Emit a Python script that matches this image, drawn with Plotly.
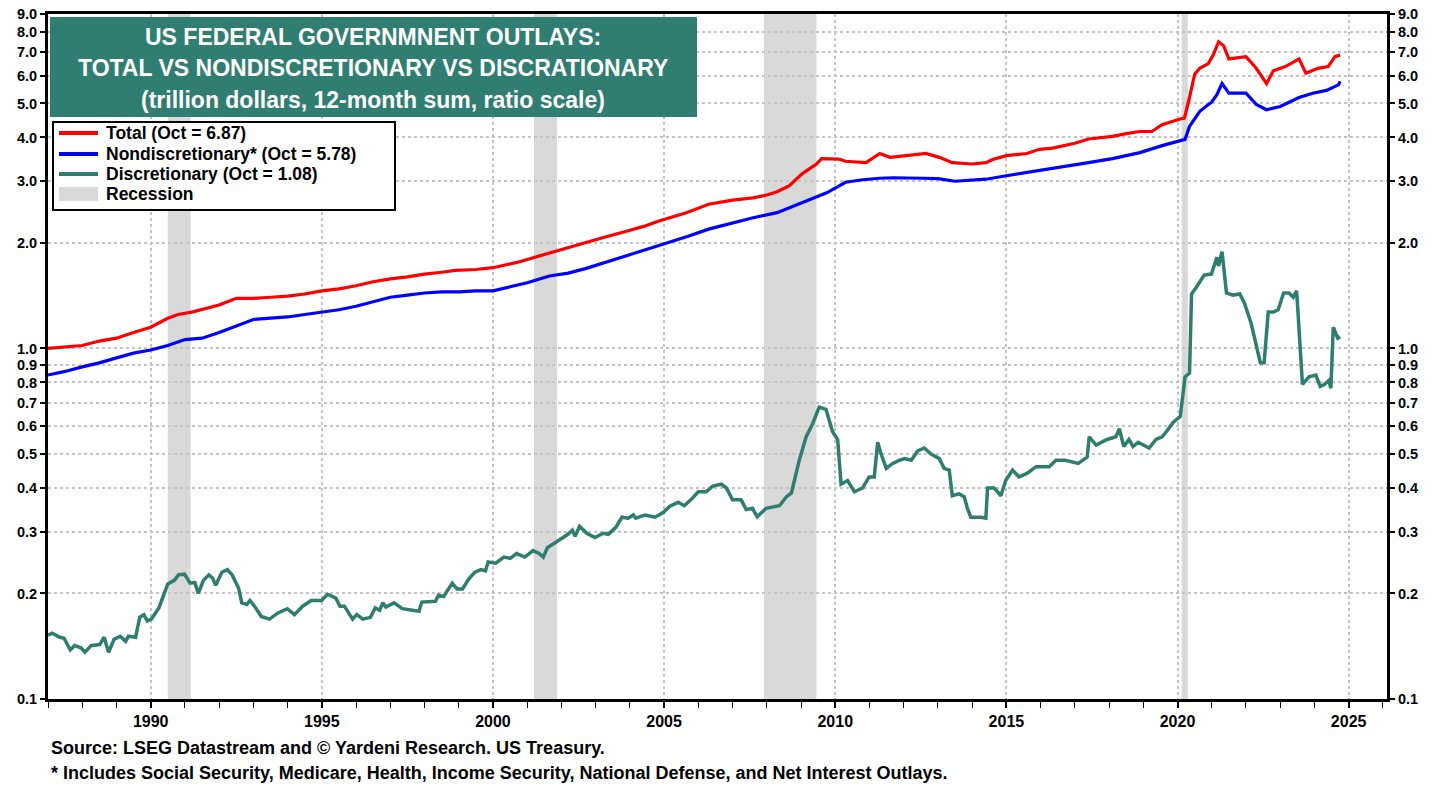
import plotly.graph_objects as go

# ---------------- data ----------------
total_x = [1987.0, 1987.5, 1988.0, 1988.5, 1989.0, 1989.5, 1990.0, 1990.5, 1990.8, 1991.2, 1991.5, 1992.0,
           1992.5, 1993.0, 1993.5, 1994.0, 1994.5, 1995.0, 1995.5, 1996.0, 1996.5, 1997.0, 1997.5, 1998.0,
           1998.5, 1998.9, 1999.5, 2000.0, 2000.7, 2001.2, 2001.65, 2002.1, 2002.5, 2003.2, 2003.9, 2004.4,
           2004.85, 2005.65, 2006.3, 2007.0, 2007.6, 2008.0, 2008.3, 2008.65, 2009.05, 2009.45, 2009.6,
           2010.1, 2010.3, 2010.9, 2011.3, 2011.6, 2012.07, 2012.65, 2013.04, 2013.42, 2014.0, 2014.4,
           2014.6, 2015.0, 2015.6, 2015.96, 2016.35, 2017.0, 2017.4, 2018.1, 2018.5, 2018.9, 2019.25,
           2019.55, 2020.05, 2020.2, 2020.35, 2020.5, 2020.65, 2020.9, 2021.05, 2021.2, 2021.35, 2021.5,
           2022.0, 2022.3, 2022.6, 2022.8, 2023.15, 2023.55, 2023.75, 2024.1, 2024.4, 2024.6, 2024.75]
total_y = [1.00, 1.01, 1.02, 1.05, 1.07, 1.11, 1.15, 1.22, 1.25, 1.27, 1.29, 1.33,
           1.39, 1.39, 1.40, 1.41, 1.43, 1.46, 1.48, 1.51, 1.55, 1.58, 1.60, 1.63,
           1.65, 1.67, 1.68, 1.70, 1.76, 1.82, 1.87, 1.93, 1.98, 2.07, 2.16, 2.23,
           2.31, 2.44, 2.58, 2.65, 2.69, 2.74, 2.80, 2.91, 3.16, 3.36, 3.48,
           3.47, 3.42, 3.39, 3.60, 3.51, 3.55, 3.60, 3.51, 3.39, 3.36, 3.39,
           3.46, 3.55, 3.60, 3.70, 3.73, 3.85, 3.96, 4.03, 4.10, 4.16, 4.16,
           4.35, 4.51, 4.54, 5.20, 6.06, 6.30, 6.50, 6.90, 7.50, 7.30, 6.70,
           6.80, 6.30, 5.70, 6.20, 6.37, 6.70, 6.10, 6.30, 6.37, 6.80, 6.87]

nondisc_x = [1987.0, 1987.5, 1988.0, 1988.5, 1989.0, 1989.5, 1990.0, 1990.5, 1991.0, 1991.5, 1992.0,
             1992.5, 1993.0, 1993.5, 1994.0, 1994.5, 1995.0, 1995.5, 1996.0, 1996.5, 1997.0, 1997.5,
             1998.0, 1998.5, 1999.0, 1999.5, 2000.0, 2000.5, 2001.0, 2001.65, 2002.2, 2002.7, 2003.3,
             2003.9, 2004.5, 2005.1, 2005.7, 2006.3, 2007.0, 2007.6, 2008.3, 2008.8, 2009.35, 2009.75,
             2010.3, 2010.8, 2011.3, 2011.7, 2012.55, 2013.0, 2013.5, 2014.0, 2014.4, 2015.0, 2015.65,
             2016.35, 2017.0, 2017.4, 2018.1, 2018.9, 2019.55, 2020.15, 2020.22, 2020.35, 2020.65,
             2021.0, 2021.15, 2021.3, 2021.5, 2022.0, 2022.3, 2022.6, 2023.0, 2023.55, 2023.95, 2024.35,
             2024.7, 2024.75]
nondisc_y = [0.84, 0.86, 0.886, 0.91, 0.94, 0.97, 0.99, 1.02, 1.06, 1.07, 1.11,
             1.16, 1.21, 1.22, 1.23, 1.25, 1.27, 1.29, 1.32, 1.36, 1.40, 1.42,
             1.44, 1.45, 1.45, 1.46, 1.46, 1.50, 1.54, 1.61, 1.64, 1.69, 1.76,
             1.84, 1.92, 2.00, 2.09, 2.19, 2.28, 2.36, 2.44, 2.55, 2.69, 2.78,
             2.98, 3.03, 3.06, 3.07, 3.06, 3.05, 3.00, 3.02, 3.04, 3.11, 3.18,
             3.27, 3.33, 3.39, 3.48, 3.62, 3.79, 3.92, 3.95, 4.30, 4.75,
             5.05, 5.30, 5.70, 5.35, 5.35, 4.97, 4.80, 4.90, 5.20, 5.35, 5.45,
             5.65, 5.78]

disc_x = [1987.0, 1987.12, 1987.35, 1987.47, 1987.65, 1987.78, 1987.96, 1988.08, 1988.26, 1988.51,
          1988.64, 1988.77, 1988.93, 1989.11, 1989.27, 1989.35, 1989.56, 1989.68, 1989.8, 1989.9,
          1990.02, 1990.24, 1990.5, 1990.69, 1990.81, 1990.99, 1991.15, 1991.29, 1991.39, 1991.54,
          1991.7, 1991.81, 1991.9, 1992.08, 1992.24, 1992.38, 1992.57, 1992.66, 1992.81, 1992.9,
          1993.05, 1993.23, 1993.47, 1993.72, 1993.99, 1994.2, 1994.44, 1994.69, 1994.99, 1995.17,
          1995.41, 1995.53, 1995.66, 1995.9, 1996.02, 1996.2, 1996.42, 1996.56, 1996.69, 1996.78,
          1996.87, 1997.11, 1997.35, 1997.71, 1997.84, 1997.92, 1998.32, 1998.41, 1998.56, 1998.81,
          1998.95, 1999.11, 1999.29, 1999.47, 1999.65, 1999.78, 1999.86, 2000.08, 2000.32, 2000.5,
          2000.69, 2000.93, 2001.17, 2001.35, 2001.47, 2001.59, 2001.83, 2002.08, 2002.19, 2002.32,
          2002.4, 2002.53, 2002.74, 2002.98, 2003.22, 2003.37, 2003.59, 2003.77, 2003.95, 2004.1,
          2004.17, 2004.44, 2004.74, 2004.98, 2005.17, 2005.41, 2005.59, 2005.78, 2006.0, 2006.23,
          2006.42, 2006.67, 2006.82, 2007.0, 2007.25, 2007.4, 2007.58, 2007.72, 2007.98, 2008.37,
          2008.57, 2008.72, 2008.95, 2009.15, 2009.34, 2009.53, 2009.73, 2009.92, 2010.07, 2010.17,
          2010.36, 2010.56, 2010.8, 2010.99, 2011.14, 2011.24, 2011.34, 2011.49, 2011.68, 2011.88,
          2012.03, 2012.22, 2012.41, 2012.6, 2012.8, 2013.04, 2013.18, 2013.33, 2013.42, 2013.62,
          2013.77, 2013.86, 2013.96, 2014.11, 2014.25, 2014.4, 2014.45, 2014.64, 2014.84, 2014.98,
          2015.18, 2015.37, 2015.6, 2015.87, 2016.25, 2016.45, 2016.72, 2017.1, 2017.36, 2017.42,
          2017.62, 2017.94, 2018.2, 2018.3, 2018.43, 2018.58, 2018.7, 2018.85, 2019.1, 2019.17,
          2019.37, 2019.55, 2019.68, 2019.87, 2020.08, 2020.22, 2020.35, 2020.41, 2020.54, 2020.78,
          2020.99, 2021.15, 2021.2, 2021.3, 2021.43, 2021.62, 2021.82, 2021.95, 2022.15, 2022.29,
          2022.42, 2022.53, 2022.65, 2022.8, 2022.94, 2023.1, 2023.26, 2023.38, 2023.48, 2023.65,
          2023.84, 2024.04, 2024.17, 2024.3, 2024.42, 2024.48, 2024.55, 2024.68, 2024.75]
disc_y = [0.152, 0.154, 0.150, 0.149, 0.138, 0.142, 0.140, 0.136, 0.142, 0.143,
          0.150, 0.136, 0.148, 0.151, 0.146, 0.151, 0.150, 0.171, 0.174, 0.167,
          0.169, 0.182, 0.213, 0.218, 0.226, 0.227, 0.214, 0.215, 0.200, 0.218,
          0.226, 0.221, 0.211, 0.230, 0.234, 0.226, 0.207, 0.188, 0.186, 0.191,
          0.183, 0.172, 0.169, 0.176, 0.181, 0.174, 0.184, 0.191, 0.191, 0.199,
          0.194, 0.184, 0.184, 0.169, 0.174, 0.169, 0.171, 0.182, 0.179, 0.188,
          0.183, 0.188, 0.181, 0.179, 0.178, 0.189, 0.190, 0.198, 0.196, 0.214,
          0.206, 0.206, 0.220, 0.230, 0.234, 0.232, 0.246, 0.244, 0.254, 0.252,
          0.260, 0.254, 0.265, 0.260, 0.254, 0.270, 0.280, 0.289, 0.295, 0.303,
          0.291, 0.311, 0.297, 0.289, 0.297, 0.295, 0.309, 0.330, 0.328, 0.335,
          0.328, 0.335, 0.330, 0.341, 0.355, 0.364, 0.356, 0.370, 0.390, 0.390,
          0.405, 0.410, 0.400, 0.370, 0.370, 0.347, 0.350, 0.331, 0.350, 0.356,
          0.377, 0.387, 0.480, 0.560, 0.610, 0.680, 0.670, 0.580, 0.550, 0.410,
          0.420, 0.390, 0.400, 0.430, 0.430, 0.540, 0.500, 0.455, 0.470, 0.480,
          0.485, 0.480, 0.510, 0.520, 0.500, 0.485, 0.455, 0.450, 0.380, 0.385,
          0.377, 0.350, 0.330, 0.330, 0.330, 0.328, 0.400, 0.400, 0.380, 0.420,
          0.450, 0.430, 0.440, 0.460, 0.460, 0.480, 0.480, 0.470, 0.490, 0.560,
          0.530, 0.550, 0.560, 0.590, 0.525, 0.550, 0.525, 0.540, 0.525, 0.520,
          0.550, 0.560, 0.580, 0.615, 0.640, 0.830, 0.850, 1.430, 1.490, 1.620,
          1.630, 1.820, 1.720, 1.890, 1.440, 1.420, 1.430, 1.350, 1.180, 1.030,
          0.910, 0.910, 1.270, 1.270, 1.290, 1.440, 1.440, 1.400, 1.460, 0.790,
          0.830, 0.840, 0.780, 0.790, 0.810, 0.770, 1.150, 1.070, 1.080]

recession_start = [1990.5, 2001.2, 2007.92, 2020.12]
recession_end = [1991.17, 2001.87, 2009.45, 2020.3]

y_tickvals = [0.1, 0.2, 0.3, 0.4, 0.5, 0.6, 0.7, 0.8, 0.9, 1, 2, 3, 4, 5, 6, 7, 8, 9]
y_ticktext = ["0.1", "0.2", "0.3", "0.4", "0.5", "0.6", "0.7", "0.8", "0.9",
              "1.0", "2.0", "3.0", "4.0", "5.0", "6.0", "7.0", "8.0", "9.0"]
x_tickvals = [1990, 1995, 2000, 2005, 2010, 2015, 2020, 2025]

legend_labels = ["Total (Oct = 6.87)", "Nondiscretionary* (Oct = 5.78)",
                 "Discretionary (Oct = 1.08)", "Recession"]
title_lines = ["US FEDERAL GOVERNMNENT OUTLAYS:",
               "TOTAL VS NONDISCRETIONARY VS DISCRATIONARY",
               "(trillion dollars, 12-month sum, ratio scale)"]
footnotes = ["Source: LSEG Datastream and © Yardeni Research. US Treasury.",
             "* Includes Social Security, Medicare, Health, Income Security, National Defense, and Net Interest Outlays."]

# ---------------- styles ----------------
RED = "#FF0000"
BLUE = "#0000FF"
TEAL = "#2E7D6F"
BOX = "#2F7E71"
GRID = "#C4C4C4"
REC = "#D9D9D9"
FONT = "Liberation Sans, Arial, sans-serif"

W, H = 1442, 790
L, R, T, B = 48, 1387, 14, 699  # plot area in px


def px(xp):
    return (xp - L) / (R - L)


def py(yp):
    return 1 - (yp - T) / (B - T)


fig = go.Figure()
fig.add_trace(go.Scatter(x=disc_x, y=disc_y, mode="lines", line=dict(color=TEAL, width=3.5),
                         showlegend=False, hoverinfo="skip"))
fig.add_trace(go.Scatter(x=nondisc_x, y=nondisc_y, mode="lines", line=dict(color=BLUE, width=3.2),
                         showlegend=False, hoverinfo="skip"))
fig.add_trace(go.Scatter(x=total_x, y=total_y, mode="lines", line=dict(color=RED, width=3.2),
                         showlegend=False, hoverinfo="skip"))
# invisible trace to carry the right axis
fig.add_trace(go.Scatter(x=total_x[:1], y=total_y[:1], yaxis="y2", mode="lines",
                         line=dict(color="rgba(0,0,0,0)"), showlegend=False, hoverinfo="skip"))

shapes = []
for s, e in zip(recession_start, recession_end):
    shapes.append(dict(type="rect", xref="x", yref="paper", x0=s, x1=e, y0=0, y1=1,
                       fillcolor=REC, line=dict(width=0), layer="below"))

# title box
shapes.append(dict(type="rect", xref="paper", yref="paper", x0=px(50), x1=px(697), y0=py(117), y1=py(17),
                   fillcolor=BOX, line=dict(width=0), layer="above"))
# legend box
shapes.append(dict(type="rect", xref="paper", yref="paper", x0=px(53), x1=px(395), y0=py(210), y1=py(122),
                   fillcolor="white", line=dict(color="black", width=2), layer="above"))
legend_rows = [133, 154, 174, 194]
legend_colors = [RED, BLUE, TEAL]
for yy, c in zip(legend_rows[:3], legend_colors):
    shapes.append(dict(type="line", xref="paper", yref="paper", x0=px(59), x1=px(98), y0=py(yy), y1=py(yy),
                       line=dict(color=c, width=4), layer="above"))
shapes.append(dict(type="rect", xref="paper", yref="paper", x0=px(59), x1=px(98), y0=py(201), y1=py(187),
                   fillcolor=REC, line=dict(width=0), layer="above"))

annotations = []
for txt, yy in zip(title_lines, [37, 68, 100]):
    annotations.append(dict(text=txt, xref="paper", yref="paper", x=px(373), y=py(yy), showarrow=False,
                            xanchor="center", yanchor="middle",
                            font=dict(family=FONT, size=23, color="white", weight="bold")))
for txt, yy in zip(legend_labels, legend_rows):
    annotations.append(dict(text=txt, xref="paper", yref="paper", x=px(104), y=py(yy), showarrow=False,
                            xanchor="left", yanchor="middle",
                            font=dict(family=FONT, size=17.5, color="black", weight="bold")))
for txt, yy in zip(footnotes, [748, 773]):
    annotations.append(dict(text=txt, xref="paper", yref="paper", x=px(49), y=py(yy), showarrow=False,
                            xanchor="left", yanchor="middle",
                            font=dict(family=FONT, size=18, color="black", weight="bold")))

yaxis_common = dict(type="log", range=[-1, 0.9542425], tickvals=y_tickvals, ticktext=y_ticktext,
                    ticks="outside", ticklen=5, tickwidth=1.5, tickcolor="black",
                    showline=True, linewidth=3, linecolor="black", automargin=False,
                    tickfont=dict(family=FONT, size=14.5, color="black", weight="bold"),
                    zeroline=False)

fig.update_layout(
    width=W, height=H,
    margin=dict(l=L, r=W - R, t=T, b=H - B, pad=0),
    paper_bgcolor="white", plot_bgcolor="white",
    showlegend=False,
    xaxis=dict(range=[1987.0, 2026.12], tickvals=x_tickvals, ticktext=[str(v) for v in x_tickvals],
               ticks="outside", ticklen=6, tickwidth=1.5, tickcolor="black", automargin=False,
               showline=True, linewidth=3, linecolor="black", mirror=True,
               showgrid=True, gridcolor=GRID, gridwidth=1.5, griddash="dot",
               minor=dict(dtick=1, tick0=1987, ticks="outside", ticklen=6, tickwidth=1, tickcolor="black",
                          showgrid=False),
               tickfont=dict(family=FONT, size=16, color="black", weight="bold"),
               zeroline=False),
    yaxis=dict(**yaxis_common, side="left", showgrid=True, gridcolor=GRID, gridwidth=1.5, griddash="dot"),
    yaxis2=dict(**yaxis_common, side="right", overlaying="y", showgrid=False),
    shapes=shapes,
    annotations=annotations,
)

fig.write_html("out.html", config={"displayModeBar": False},
               post_script="document.body.style.margin='0px';")
